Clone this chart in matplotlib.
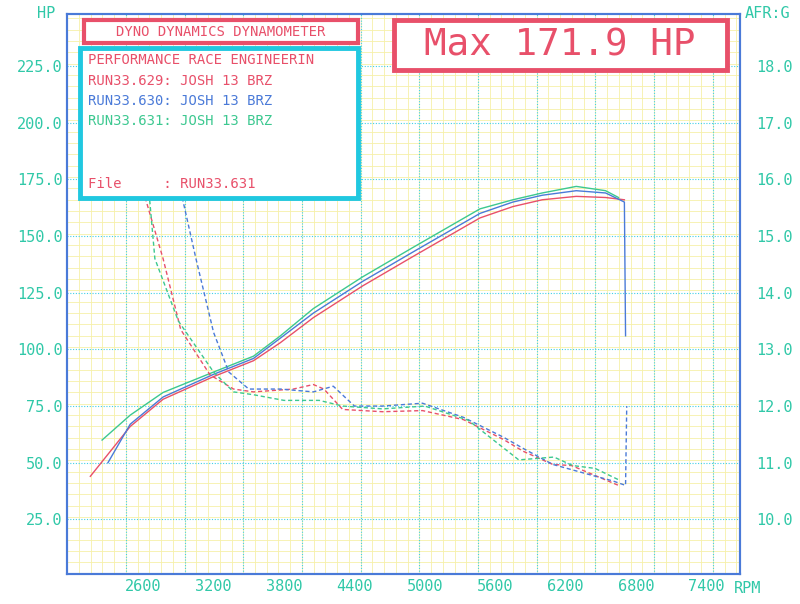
import numpy as np
import matplotlib.pyplot as plt
from matplotlib.patches import Rectangle

# ============================================================
# Data
# ============================================================
RUNS = ["RUN33.629: JOSH 13 BRZ", "RUN33.630: JOSH 13 BRZ", "RUN33.631: JOSH 13 BRZ"]
COLORS = ["#e8506a", "#4a7ad8", "#3cc890"]

# Power (HP) vs rpm
rpm_629 = [2150, 2490, 2770, 3200, 3540, 3770, 4050, 4470, 4900, 5470, 5750, 6000, 6290, 6540, 6700]
hp_629 = [44, 66, 78, 88, 95, 103, 114, 128, 141, 158, 163, 166, 167.5, 167, 166]

rpm_630 = [2300, 2490, 2770, 3200, 3540, 3770, 4050, 4470, 4900, 5470, 5750, 6000, 6290, 6540, 6700, 6710]
hp_630 = [50, 67, 79, 89, 96, 105, 116, 130, 143, 160, 165, 168, 170, 169, 165, 106]

rpm_631 = [2250, 2490, 2770, 3200, 3540, 3770, 4050, 4470, 4900, 5470, 5750, 6000, 6290, 6540, 6650]
hp_631 = [60, 71, 81, 90, 97, 106, 118, 132, 145, 162, 166, 169, 171.9, 170, 167]

# Air/fuel ratio vs rpm
afr_rpm_629 = [2600, 2770, 2920, 3170, 3370, 3540, 3880, 4050, 4140, 4300, 4640, 4980, 5330, 5670, 5840, 6090, 6250, 6650]
afr_629 = [15.8, 14.6, 13.35, 12.55, 12.3, 12.25, 12.3, 12.38, 12.3, 11.94, 11.9, 11.92, 11.76, 11.41, 11.2, 10.97, 10.95, 10.6]

afr_rpm_630 = [2920, 3050, 3200, 3330, 3500, 3770, 4050, 4220, 4400, 4640, 4980, 5330, 5670, 5840, 6090, 6420, 6600, 6710, 6720]
afr_630 = [15.8, 14.6, 13.3, 12.6, 12.3, 12.3, 12.25, 12.35, 12.0, 12.0, 12.05, 11.8, 11.45, 11.25, 10.97, 10.78, 10.68, 10.6, 12.0]

afr_rpm_631 = [2640, 2700, 2900, 3200, 3370, 3540, 3800, 4100, 4300, 4640, 5000, 5370, 5800, 6100, 6260, 6450, 6650]
afr_631 = [16.0, 14.6, 13.5, 12.6, 12.25, 12.2, 12.1, 12.1, 12.0, 11.95, 12.0, 11.75, 11.05, 11.1, 10.95, 10.9, 10.7]

HP_TICKS = [25, 50, 75, 100, 125, 150, 175, 200, 225]
AFR_TICKS = [10, 11, 12, 13, 14, 15, 16, 17, 18]
RPM_TICKS = [2600, 3200, 3800, 4400, 5000, 5600, 6200, 6800, 7400]
MAX_HP = 171.9


def afr_to_hp(a):
    # right axis shares the left scale: 10 AFR = 25 HP, 1 AFR per 25 HP
    return 25 + (np.asarray(a) - 10) * 25


# ============================================================
# Figure
# ============================================================
TICK_C = "#30c8a8"
FRAME_C = "#4a7ad8"
MONO = "DejaVu Sans Mono"

fig = plt.figure(figsize=(8, 6.04), dpi=100)
ax = fig.add_axes([0.084, 0.05, 0.841, 0.927])
ax.set_xlim(1953, 7685)
ax.set_ylim(1, 248)

# paper grid: yellow minor, cyan dotted major
for x in np.arange(1953, 7685, 100):
    ax.axvline(x, color="#f6f0a8", lw=0.6, zorder=0)
for y in np.arange(1, 248, 5):
    ax.axhline(y, color="#f6f0a8", lw=0.6, zorder=0)
for x in np.arange(1953 + 500, 7685, 500):
    ax.axvline(x, color="#40d0e8", lw=0.8, ls=(0, (1, 1.5)), zorder=1)
for y in HP_TICKS:
    ax.axhline(y, color="#40d0e8", lw=0.8, ls=(0, (1, 1.5)), zorder=1)

for r, h, c in [(rpm_629, hp_629, COLORS[0]), (rpm_630, hp_630, COLORS[1]),
                (rpm_631, hp_631, COLORS[2])]:
    ax.plot(r, h, color=c, lw=1.0, zorder=3)
for r, a, c in [(afr_rpm_629, afr_629, COLORS[0]), (afr_rpm_630, afr_630, COLORS[1]),
                (afr_rpm_631, afr_631, COLORS[2])]:
    ax.plot(r, afr_to_hp(a), color=c, lw=1.0, ls=(0, (3, 2)), zorder=3)

ax.set_xticks(RPM_TICKS)
ax.set_xticklabels([str(t) for t in RPM_TICKS])
ax.set_yticks(HP_TICKS)
ax.set_yticklabels([f"{t:.1f}" for t in HP_TICKS])
ax.tick_params(length=0, labelcolor=TICK_C, labelsize=11)
for lab in ax.get_xticklabels() + ax.get_yticklabels():
    lab.set_family(MONO)

ax2 = ax.twinx()
ax2.set_ylim(ax.get_ylim())
ax2.set_yticks(afr_to_hp(AFR_TICKS))
ax2.set_yticklabels([f"{t:.1f}" for t in AFR_TICKS], family=MONO)
ax2.tick_params(length=0, labelcolor=TICK_C, labelsize=11, pad=12)

for a in (ax, ax2):
    for s in a.spines.values():
        s.set_color(FRAME_C)
        s.set_linewidth(1.5)

fig.text(0.058, 0.97, "HP", color=TICK_C, family=MONO, fontsize=11, ha="center")
fig.text(0.96, 0.97, "AFR:G", color=TICK_C, family=MONO, fontsize=11, ha="center")
fig.text(0.935, 0.018, "RPM", color=TICK_C, family=MONO, fontsize=11, ha="center")

# header boxes
fig.patches.append(Rectangle((84 / 800, 1 - 43 / 604), 274 / 800, 23 / 604,
                             transform=fig.transFigure, fill=True, fc="white",
                             ec=COLORS[0], lw=3, zorder=5))
fig.text(221 / 800, 1 - 32 / 604, "DYNO DYNAMICS DYNAMOMETER", color=COLORS[0],
         family=MONO, fontsize=10, ha="center", va="center", zorder=6)
fig.patches.append(Rectangle((80 / 800, 1 - 198 / 604), 278 / 800, 150 / 604,
                             transform=fig.transFigure, fill=True, fc="white",
                             ec="#20c8e0", lw=3.5, zorder=5))
fig.text(88 / 800, 1 - 60 / 604, "PERFORMANCE RACE ENGINEERIN", color=COLORS[0],
         family=MONO, fontsize=10, va="center", zorder=6)
for i, (name, c) in enumerate(zip(RUNS, COLORS)):
    fig.text(88 / 800, 1 - (81 + 20 * i) / 604, name, color=c, family=MONO,
             fontsize=10, va="center", zorder=6)
fig.text(88 / 800, 1 - 184 / 604, "File     : RUN33.631", color=COLORS[0],
         family=MONO, fontsize=10, va="center", zorder=6)

fig.patches.append(Rectangle((394 / 800, 1 - 70 / 604), 333 / 800, 50 / 604,
                             transform=fig.transFigure, fill=True, fc="white",
                             ec=COLORS[0], lw=3.5, zorder=5))
fig.text(560 / 800, 1 - 45 / 604, f"Max {MAX_HP:.1f} HP", color=COLORS[0],
         family=MONO, fontsize=27, ha="center", va="center", zorder=6)

fig.savefig("out.png", dpi=100)
